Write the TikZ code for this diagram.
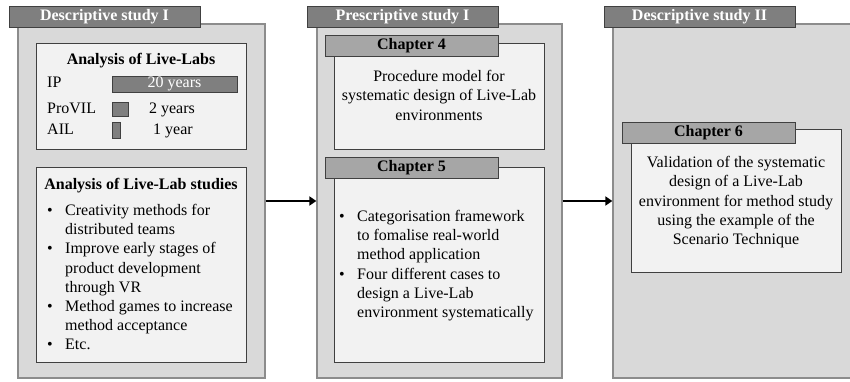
\documentclass[tikz,border=0pt]{standalone}
\usepackage{fontspec}
\setmainfont{Liberation Serif}
\usetikzlibrary{arrows.meta,shadows}
\definecolor{panelfill}{HTML}{D9D9D9}
\definecolor{panelline}{HTML}{8C8C8C}
\definecolor{tabdark}{HTML}{7F7F7F}
\definecolor{tablight}{HTML}{A6A6A6}
\definecolor{boxfill}{HTML}{F2F2F2}
\definecolor{edge}{HTML}{404040}
\tikzset{
  panel/.style={draw=panelline, fill=panelfill, line width=1.3pt, inner sep=0pt},
  inbox/.style={draw=edge, fill=boxfill, line width=0.8pt, inner sep=0pt,
    drop shadow={shadow xshift=1pt, shadow yshift=-1pt, opacity=0.3}},
  headtab/.style={draw=edge, fill=tabdark, line width=0.8pt, inner sep=0pt,
    minimum width=191pt, minimum height=21pt, text=white,
    font=\fontsize{16}{19.3}\selectfont\bfseries,
    drop shadow={shadow xshift=1pt, shadow yshift=-1pt, opacity=0.3}},
  chaptab/.style={draw=edge, fill=tablight, line width=0.8pt, inner sep=0pt,
    minimum width=173pt, minimum height=21pt, text=black,
    font=\fontsize{16}{19.3}\selectfont\bfseries,
    drop shadow={shadow xshift=1pt, shadow yshift=-1pt, opacity=0.3}},
  txt/.style={font=\fontsize{16}{19.3}\selectfont, inner sep=0pt, text height=11pt, text depth=3.5pt},
  btxt/.style={txt, font=\fontsize{16}{19.3}\selectfont\bfseries},
  bar/.style={draw=edge, fill=tabdark, line width=0.8pt, inner sep=0pt},
  flow/.style={line width=2.6pt, -{Triangle[length=7pt,width=9pt]}}
}
\begin{document}
\begin{tikzpicture}[x=1pt,y=-1pt]
\useasboundingbox (0,0) rectangle (850,382);
\clip (0,0) rectangle (850,382);

% panels
\node[panel, minimum width=247pt, minimum height=354pt] (p1) at (141.5,201) {};
\node[panel, minimum width=245pt, minimum height=354pt] (p2) at (439.5,201) {};
\node[panel, minimum width=247pt, minimum height=354pt] (p3) at (736.5,201) {};

% header tabs
\node[headtab] (h1) at (104.5,16.5) {Descriptive study I};
\node[headtab] (h2) at (402.5,16.5) {Prescriptive study I};
\node[headtab] (h3) at (699.5,16.5) {Descriptive study II};

% panel 1 inner boxes
\node[inbox, minimum width=210pt, minimum height=106pt] (a) at (141,96) {};
\node[inbox, minimum width=210pt, minimum height=195pt] (b) at (141,264.5) {};

\node[btxt] (at) at (141,61) {Analysis of Live-Labs};
\node[txt, anchor=west] (ip) at (47,84) {IP};
\node[txt, anchor=west] (pv) at (47,110) {ProVIL};
\node[txt, anchor=west] (ail) at (47,131) {AIL};
\node[bar, minimum width=125pt, minimum height=16pt] (ipbar) at (174.5,84) {};
\node[txt, text=white] (ipy) at (ipbar.center) {20 years};
\node[bar, minimum width=16pt, minimum height=14pt] (pvbar) at (120,109) {};
\node[txt] (pvy) at (172,110) {2 years};
\node[bar, minimum width=8pt, minimum height=16pt] (ailbar) at (116,130) {};
\node[txt] (aily) at (173,131) {1 year};

\node[btxt] (bt) at (141,186) {Analysis of Live-Lab studies};
\foreach \y/\t [count=\i] in {212/Creativity methods for, 231/distributed teams,
  250/Improve early stages of, 270/product development, 289/through VR,
  308/Method games to increase, 327/method acceptance, 346/Etc.}
  \node[txt, anchor=west] (bl\i) at (65,\y) {\t};
\foreach \y [count=\i] in {212,250,308,346}
  \node[txt] (bb\i) at (50,\y) {•};

% panel 2
\node[inbox, minimum width=210pt, minimum height=106pt] (c4) at (439,96) {};
\node[chaptab] (t4) at (411.5,46) {Chapter 4};
\foreach \y/\t [count=\i] in {78/Procedure model for, 97/systematic design of Live-Lab, 117/environments}
  \node[txt] (c4l\i) at (439,\y) {\t};

\node[inbox, minimum width=210pt, minimum height=195pt] (c5) at (439,264.5) {};
\node[chaptab] (t5) at (411.5,167.5) {Chapter 5};
\foreach \y/\t [count=\i] in {218/Categorisation framework, 237/to fomalise real-world,
  256/method application, 276/Four different cases to, 295/design a Live-Lab,
  314/environment systematically}
  \node[txt, anchor=west] (c5l\i) at (357,\y) {\t};
\foreach \y [count=\i] in {218,276}
  \node[txt] (c5b\i) at (342,\y) {•};

% panel 3
\node[inbox, minimum width=210pt, minimum height=143pt] (c6) at (736,200.5) {};
\node[chaptab] (t6) at (708.5,132.5) {Chapter 6};
\foreach \y/\t [count=\i] in {164/Validation of the systematic, 183/design of a Live-Lab,
  203/environment for method study, 222/using the example of the, 241/Scenario Technique}
  \node[txt] (c6l\i) at (736,\y) {\t};

% connectors
\draw[flow] (p1.east) -- (p2.west);
\draw[flow] (p2.east) -- (p3.west);
\end{tikzpicture}
\end{document}
